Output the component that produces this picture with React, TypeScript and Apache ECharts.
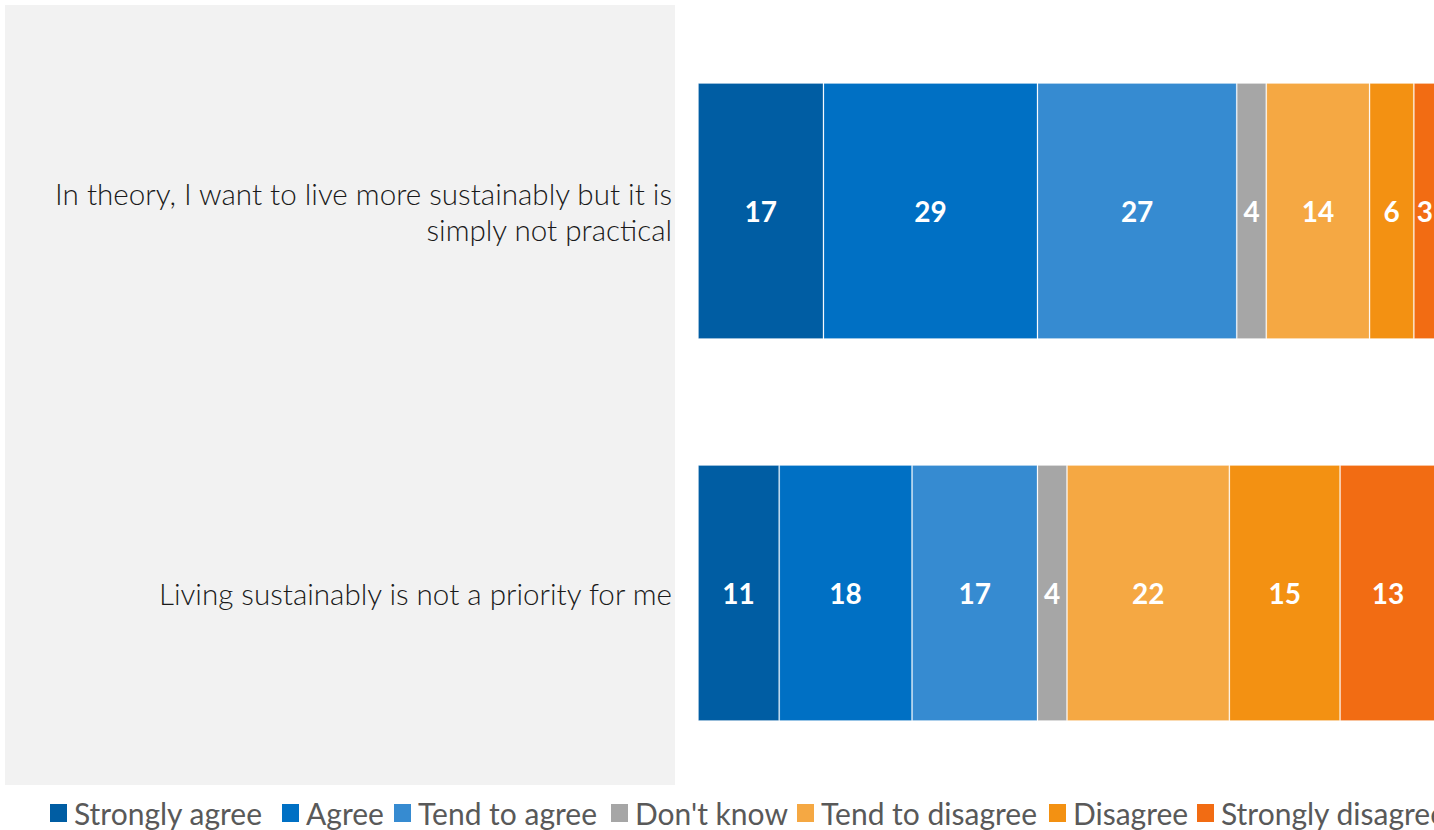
import React, { useEffect, useRef } from "react";
import * as echarts from "echarts";

const categories = [
  "In theory, I want to live more sustainably but it is simply not practical",
  "Living sustainably is not a priority for me",
];
const seriesNames = [
  "Strongly agree",
  "Agree",
  "Tend to agree",
  "Don't know",
  "Tend to disagree",
  "Disagree",
  "Strongly disagree",
];
const stronglyAgree = [17, 11];
const agree = [29, 18];
const tendToAgree = [27, 17];
const dontKnow = [4, 4];
const tendToDisagree = [14, 22];
const disagree = [6, 15];
const stronglyDisagree = [3, 13];
const seriesValues = [stronglyAgree, agree, tendToAgree, dontKnow, tendToDisagree, disagree, stronglyDisagree];
const colors = ["#005DA3", "#0070C4", "#368BD1", "#A6A6A6", "#F5A843", "#F39112", "#F26C13"];
const legendLefts = [50, 282, 394, 611, 797, 1049, 1197];

const FONT = "Lato, 'Open Sans', sans-serif";

function wrapWords(s: string, maxChars: number): string {
  const words = s.split(" ");
  const lines: string[] = [];
  let cur = "";
  for (const w of words) {
    const next = cur ? cur + " " + w : w;
    if (next.length > maxChars && cur) {
      lines.push(cur);
      cur = w;
    } else {
      cur = next;
    }
  }
  if (cur) lines.push(cur);
  return lines.join("\n");
}

export default function App() {
  const ref = useRef<HTMLDivElement>(null);
  useEffect(() => {
    if (!ref.current) return;
    const chart = echarts.init(ref.current, undefined, { renderer: "svg" });
    chart.setOption({
      animation: false,
      backgroundColor: "#ffffff",
      graphic: [
        {
          type: "rect",
          z: -10,
          silent: true,
          shape: { x: 5, y: 5, width: 670, height: 780 },
          style: { fill: "#F2F2F2" },
        },
      ],
      grid: { left: 698, right: 4, top: 20, bottom: 46, containLabel: false },
      xAxis: { type: "value", min: 0, max: 100, show: false },
      yAxis: {
        type: "category",
        data: categories,
        inverse: true,
        axisLine: { show: false },
        axisTick: { show: false },
        axisLabel: {
          margin: 26,
          fontFamily: FONT,
          fontWeight: 300,
          fontSize: 29.6,
          lineHeight: 36,
          color: "#1a1a1a",
          align: "right",
          formatter: (v: string) => wrapWords(v, 53),
        },
      },
      legend: seriesNames.map((n, i) => ({
        data: [n],
        left: legendLefts[i],
        top: 798,
        icon: "rect",
        itemWidth: 17,
        itemHeight: 18,
        itemStyle: { borderWidth: 0 },
        selectedMode: false,
        padding: 0,
        textStyle: {
          fontFamily: FONT,
          fontSize: 30,
          color: "#595959",
          padding: [0, 0, 0, 2],
        },
      })),
      series: seriesNames.map((n, i) => ({
        name: n,
        type: "bar",
        stack: "total",
        data: seriesValues[i],
        barCategoryGap: "33%",
        itemStyle: {
          color: colors[i],
          borderColor: "rgba(255,255,255,0.2)",
          borderWidth: 1,
        },
        label: {
          show: true,
          position: "inside",
          color: "#ffffff",
          fontFamily: FONT,
          fontWeight: "bold",
          fontSize: 28,
        },
      })),
    });
    return () => chart.dispose();
  }, []);
  return (
    <div
      ref={ref}
      style={{ position: "fixed", left: 0, top: 0, width: 1440, height: 830 }}
    />
  );
}
